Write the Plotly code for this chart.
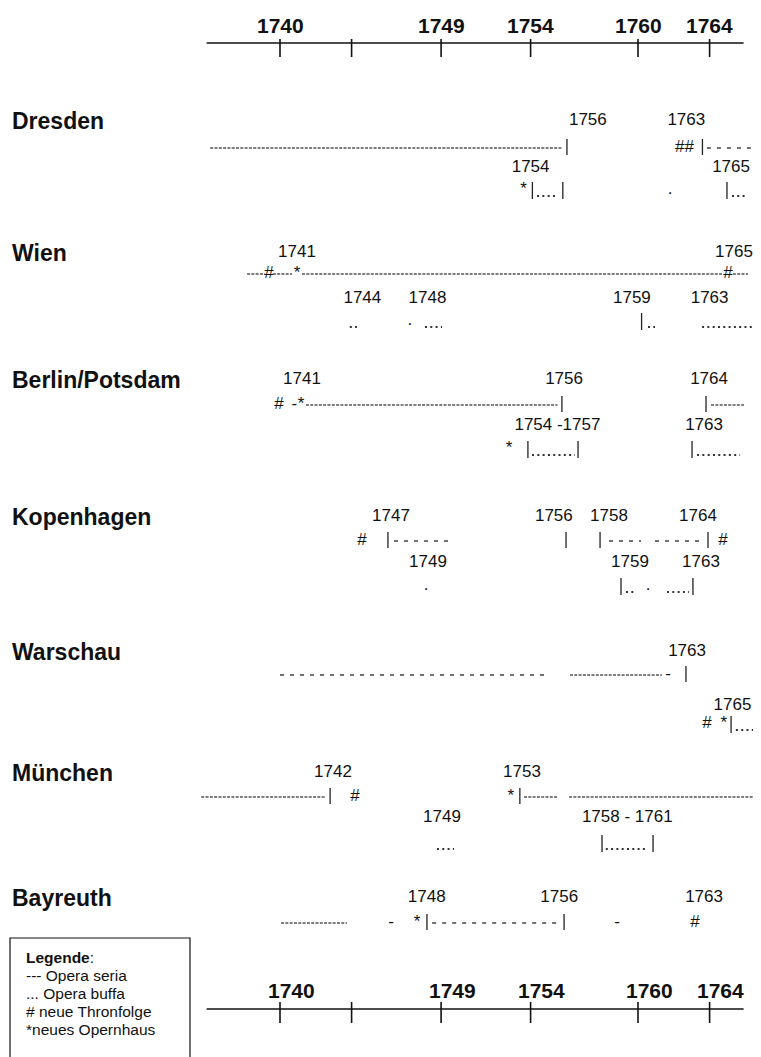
import plotly.graph_objects as go

# x is in years; the original is hand-placed text art, so marks sit at fractional years
axis_labels = [1740, 1749, 1754, 1760, 1764]
axis_ticks = [1740, 1744, 1749, 1754, 1760, 1764]
axis_span = [1735.9, 1765.9]

cities = ["Dresden", "Wien", "Berlin/Potsdam", "Kopenhagen", "Warschau", "München", "Bayreuth"]

# (city, row, year, text)  row 0 = labels over the seria line, row 2 = labels over the buffa line
year_labels = [
    ("Dresden", 0, 1757.2, "1756"), ("Dresden", 0, 1762.7, "1763"),
    ("Dresden", 2, 1754.0, "1754"), ("Dresden", 2, 1765.2, "1765"),
    ("Wien", 0, 1740.95, "1741"), ("Wien", 0, 1765.36, "1765"),
    ("Wien", 2, 1744.6, "1744"), ("Wien", 2, 1748.24, "1748"),
    ("Wien", 2, 1759.66, "1759"), ("Wien", 2, 1764.0, "1763"),
    ("Berlin/Potsdam", 0, 1741.23, "1741"), ("Berlin/Potsdam", 0, 1755.87, "1756"),
    ("Berlin/Potsdam", 0, 1763.97, "1764"), ("Berlin/Potsdam", 2, 1755.5, "1754 -1757"),
    ("Berlin/Potsdam", 2, 1763.69, "1763"),
    ("Kopenhagen", 0, 1746.2, "1747"), ("Kopenhagen", 0, 1755.3, "1756"),
    ("Kopenhagen", 0, 1758.38, "1758"), ("Kopenhagen", 0, 1763.35, "1764"),
    ("Kopenhagen", 2, 1748.27, "1749"), ("Kopenhagen", 2, 1759.55, "1759"),
    ("Kopenhagen", 2, 1763.52, "1763"),
    ("Warschau", 0, 1762.74, "1763"), ("Warschau", 2, 1765.28, "1765"),
    ("München", 0, 1742.96, "1742"), ("München", 0, 1753.52, "1753"),
    ("München", 2, 1749.05, "1749"), ("München", 2, 1759.4, "1758 - 1761"),
    ("Bayreuth", 0, 1748.2, "1748"), ("Bayreuth", 0, 1755.6, "1756"),
    ("Bayreuth", 0, 1763.69, "1763"),
]

# (city, row, start, end, kind)  seria = "-----", spaced = "- - -", buffa = "....."
segments = [
    ("Dresden", 1, 1736.1, 1755.75, "seria"), ("Dresden", 1, 1763.85, 1766.87, "spaced"),
    ("Dresden", 3, 1754.36, 1755.53, "buffa"), ("Dresden", 3, 1765.25, 1765.98, "buffa"),
    ("Wien", 1, 1738.16, 1739.16, "seria"), ("Wien", 1, 1739.6, 1740.67, "seria"),
    ("Wien", 1, 1741.23, 1764.69, "seria"), ("Wien", 1, 1765.3, 1766.15, "seria"),
    ("Wien", 3, 1743.9, 1744.3, "buffa"), ("Wien", 3, 1748.1, 1749.05, "buffa"),
    ("Wien", 3, 1760.56, 1760.95, "buffa"), ("Wien", 3, 1763.58, 1766.87, "buffa"),
    ("Berlin/Potsdam", 1, 1741.45, 1755.5, "seria"), ("Berlin/Potsdam", 1, 1764.08, 1765.92, "seria"),
    ("Berlin/Potsdam", 3, 1754.08, 1756.48, "buffa"), ("Berlin/Potsdam", 3, 1763.3, 1765.7, "buffa"),
    ("Kopenhagen", 1, 1746.37, 1749.55, "spaced"), ("Kopenhagen", 1, 1758.38, 1760.17, "spaced"),
    ("Kopenhagen", 1, 1760.95, 1763.69, "spaced"),
    ("Kopenhagen", 3, 1759.33, 1759.89, "buffa"), ("Kopenhagen", 3, 1761.62, 1762.85, "buffa"),
    ("Warschau", 1, 1740.0, 1755.0, "spaced"), ("Warschau", 1, 1756.2, 1761.34, "seria"),
    ("Warschau", 3, 1765.47, 1766.6, "buffa"),
    ("München", 1, 1735.6, 1742.5, "seria"), ("München", 1, 1753.63, 1755.53, "seria"),
    ("München", 1, 1756.15, 1766.87, "seria"),
    ("München", 3, 1748.77, 1749.72, "buffa"), ("München", 3, 1758.2, 1760.56, "buffa"),
    ("Bayreuth", 1, 1740.06, 1743.74, "seria"), ("Bayreuth", 1, 1748.5, 1755.7, "spaced"),
]

# (city, row, year)  | = start/end of a season
bars = [
    ("Dresden", 1, 1756.03), ("Dresden", 1, 1763.6), ("Dresden", 3, 1754.1),
    ("Dresden", 3, 1755.8), ("Dresden", 3, 1764.97),
    ("Wien", 3, 1760.2),
    ("Berlin/Potsdam", 1, 1755.75), ("Berlin/Potsdam", 1, 1763.8), ("Berlin/Potsdam", 3, 1753.85),
    ("Berlin/Potsdam", 3, 1756.65), ("Berlin/Potsdam", 3, 1763.02),
    ("Kopenhagen", 1, 1746.03), ("Kopenhagen", 1, 1755.98), ("Kopenhagen", 1, 1757.88),
    ("Kopenhagen", 1, 1763.91), ("Kopenhagen", 3, 1759.05), ("Kopenhagen", 3, 1763.07),
    ("Warschau", 1, 1762.68), ("Warschau", 3, 1765.2),
    ("München", 1, 1742.8), ("München", 1, 1753.4), ("München", 3, 1757.99), ("München", 3, 1760.84),
    ("Bayreuth", 1, 1748.21), ("Bayreuth", 1, 1755.87),
]

# (city, row, year, character)  # = neue Thronfolge, * = neues Opernhaus
symbols = [
    ("Dresden", 1, 1762.6, "##"), ("Dresden", 3, 1753.6, "*"), ("Dresden", 3, 1761.8, "."),
    ("Wien", 1, 1739.39, "#"), ("Wien", 1, 1740.95, "*"), ("Wien", 1, 1765.03, "#"),
    ("Wien", 3, 1747.26, "."),
    ("Berlin/Potsdam", 1, 1739.94, "#"), ("Berlin/Potsdam", 1, 1740.8, "-"),
    ("Berlin/Potsdam", 1, 1741.17, "*"), ("Berlin/Potsdam", 3, 1752.8, "*"),
    ("Kopenhagen", 1, 1744.58, "#"), ("Kopenhagen", 1, 1764.75, "#"),
    ("Kopenhagen", 3, 1748.16, "."), ("Kopenhagen", 3, 1760.56, "."),
    ("Warschau", 1, 1761.68, "-"), ("Warschau", 3, 1763.85, "#"), ("Warschau", 3, 1764.8, "*"),
    ("München", 1, 1744.19, "#"), ("München", 1, 1752.9, "*"),
    ("Bayreuth", 1, 1746.2, "-"), ("Bayreuth", 1, 1747.65, "*"),
    ("Bayreuth", 1, 1758.83, "-"), ("Bayreuth", 1, 1763.18, "#"),
]

legend_lines = ["<b>Legende</b>:", "--- Opera seria", "... Opera buffa", "# neue Thronfolge", "*neues Opernhaus"]

# ---- layout: pixel rows, y runs top to bottom; page body has an 8px margin ----
PAGE_W, PAGE_H, BODY = 761, 1057, 8
W, H = PAGE_W - BODY, PAGE_H - BODY
PX_PER_YEAR = 17.9
X0 = 1740 - 280 / PX_PER_YEAR          # year at page pixel 0
row_y = {
    "Dresden": [121, 148, 168, 190],
    "Wien": [253, 274, 299, 321],
    "Berlin/Potsdam": [380, 405, 426, 449],
    "Kopenhagen": [517, 541, 563, 586],
    "Warschau": [652, 675, 706, 724],
    "München": [773, 797, 818, 843],
    "Bayreuth": [898, 923, 945, 965],
}
FONT = "Liberation Sans, Arial, Helvetica, sans-serif"
INK = "#111111"
seg_style = {
    "seria": dict(dash="3px,1.3px", width=1.6, color="#555555", y_off=0),
    "spaced": dict(dash="4px,6px", width=1.5, color="#444444", y_off=0),
    "buffa": dict(dash="2px,3.3px", width=2, color="#333333", y_off=6),
}
bar_span = {1: (-9, 7), 3: (-8, 9)}


def paper_x(px):
    return (px - BODY) / W


fig = go.Figure()

for kind, st in seg_style.items():
    xs, ys = [], []
    for city, row, a, b, k in segments:
        if k != kind:
            continue
        y = row_y[city][row] + st["y_off"]
        xs += [a, b, None]
        ys += [y, y, None]
    fig.add_trace(go.Scatter(x=xs, y=ys, mode="lines", hoverinfo="skip",
                             line=dict(color=st["color"], width=st["width"], dash=st["dash"])))

bx, by = [], []
for city, row, x in bars:
    y = row_y[city][row]
    bx += [x, x, None]
    by += [y + bar_span[row][0], y + bar_span[row][1], None]
fig.add_trace(go.Scatter(x=bx, y=by, mode="lines", hoverinfo="skip",
                         line=dict(color="#222222", width=1.3)))

fig.add_trace(go.Scatter(
    x=[l[2] for l in year_labels], y=[row_y[l[0]][l[1]] for l in year_labels],
    text=[l[3] for l in year_labels], mode="text", textposition="middle center",
    textfont=dict(family=FONT, size=17, color=INK), hoverinfo="skip"))

fig.add_trace(go.Scatter(
    x=[s[2] for s in symbols], y=[row_y[s[0]][s[1]] for s in symbols],
    text=[s[3] for s in symbols], mode="text", textposition="middle center",
    textfont=dict(family=FONT, size=17, color=INK), hoverinfo="skip"))

# city names
for c in cities:
    fig.add_annotation(x=paper_x(10), xref="paper", y=row_y[c][0], yref="y", text="<b>%s</b>" % c,
                       showarrow=False, xanchor="left", yanchor="middle",
                       font=dict(family=FONT, size=23, color=INK))

# time axes top and bottom
for line_y, label_y, shift, t0, t1 in [(43, 25, 0, 39, 57), (1009, 990, 11, 1002, 1023)]:
    fig.add_shape(type="line", x0=axis_span[0], x1=axis_span[1], y0=line_y, y1=line_y,
                  line=dict(color=INK, width=1.3))
    for t in axis_ticks:
        fig.add_shape(type="line", x0=t, x1=t, y0=t0, y1=t1, line=dict(color=INK, width=1.6))
    for t in axis_labels:
        fig.add_annotation(x=t, y=label_y, text="<b>%d</b>" % t, showarrow=False, xshift=shift,
                           font=dict(family=FONT, size=21, color=INK))

# legend box
fig.add_shape(type="rect", xref="paper", yref="y", x0=paper_x(10), x1=paper_x(190), y0=938, y1=PAGE_H + 5,
              line=dict(color=INK, width=1.2), fillcolor="white", layer="below")
for i, t in enumerate(legend_lines):
    fig.add_annotation(x=paper_x(24), xref="paper", y=957 + 18 * i, yref="y", text=t, showarrow=False,
                       xanchor="left", yanchor="middle", font=dict(family=FONT, size=15.5, color=INK))

fig.update_layout(
    width=W, height=H, margin=dict(l=0, r=0, t=0, b=0),
    paper_bgcolor="white", plot_bgcolor="white", showlegend=False,
    xaxis=dict(range=[X0 + BODY / PX_PER_YEAR, X0 + PAGE_W / PX_PER_YEAR], visible=False, fixedrange=True),
    yaxis=dict(range=[PAGE_H, BODY], visible=False, fixedrange=True),
)

fig.write_html("out.html")
